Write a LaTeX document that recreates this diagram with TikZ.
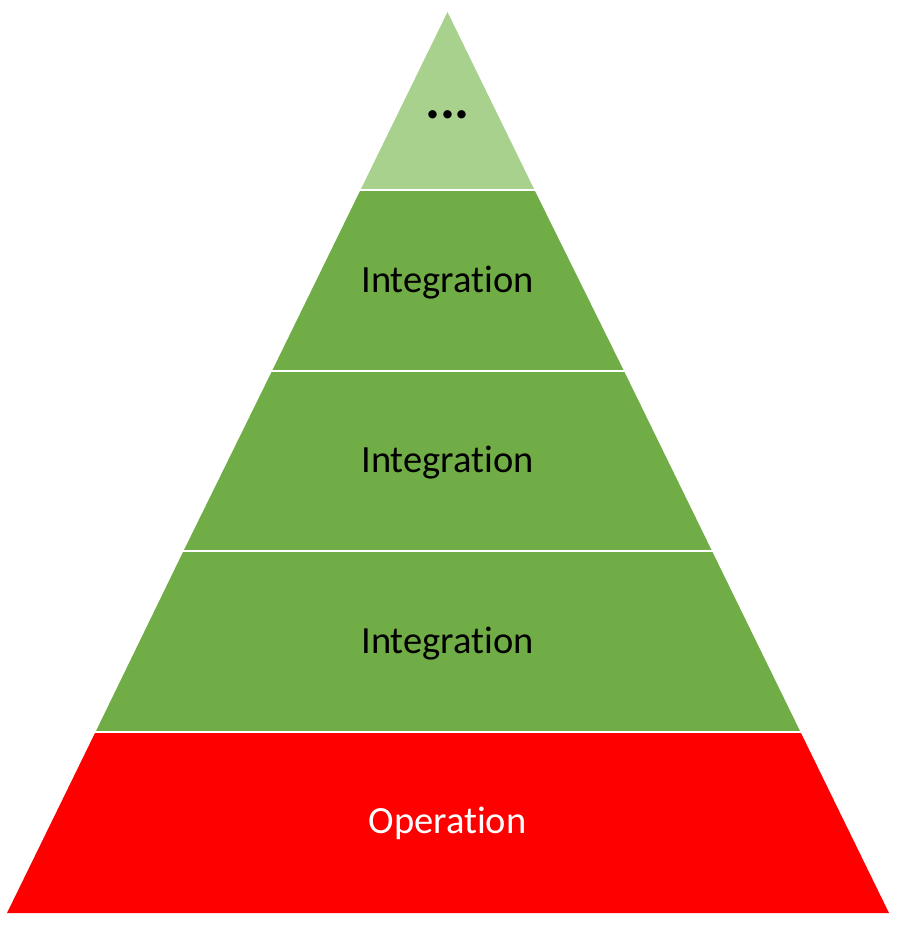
\documentclass[tikz,border=0pt]{standalone}
\usepackage{fontspec}
\setmainfont{Carlito}[Ligatures=NoCommon]
\usepackage{tikz}
\usetikzlibrary{positioning,calc}

\definecolor{toplevel}{HTML}{A9D18E}
\definecolor{midlevel}{HTML}{70AD47}
\definecolor{baselevel}{HTML}{FF0000}

\begin{document}
\begin{tikzpicture}[x=1pt, y=-1pt,
    level/.style={draw=none},
    sep/.style={draw=white, line width=2pt},
    tag/.style={anchor=base, inner sep=0pt, font=\fontsize{38.5}{45}\selectfont}]
    \useasboundingbox (0,0) rectangle (902,926);

    % pyramid levels, top to bottom
    \fill [level, toplevel] (447.5,12) -- (534.5,190) -- (360.5,190) -- cycle;
    \fill [level, midlevel] (360.5,190) -- (534.5,190) -- (624,371) -- (272,371) -- cycle;
    \fill [level, midlevel] (272,371) -- (624,371) -- (712,551) -- (183.5,551) -- cycle;
    \fill [level, midlevel] (183.5,551) -- (712,551) -- (800.5,732) -- (95.5,732) -- cycle;
    \fill [level, baselevel] (95.5,732) -- (800.5,732) -- (889,913) -- (7,913) -- cycle;

    % white gaps between levels
    \draw [sep] (355,190) -- (540,190);
    \draw [sep] (266,371) -- (630,371);
    \draw [sep] (177,551) -- (718,551);
    \draw [sep] (89,732) -- (807,732);

    \node [tag, font=\fontsize{56}{60}\selectfont\bfseries] (dots) at (447.5,118) {...};
    \node [tag] (integ3) at (447.5,292) {Integration};
    \node [tag] (integ2) at (447.5,472.5) {Integration};
    \node [tag] (integ1) at (447.5,653) {Integration};
    \node [tag, text=white] (oper) at (447.5,833) {Operation};
\end{tikzpicture}
\end{document}
